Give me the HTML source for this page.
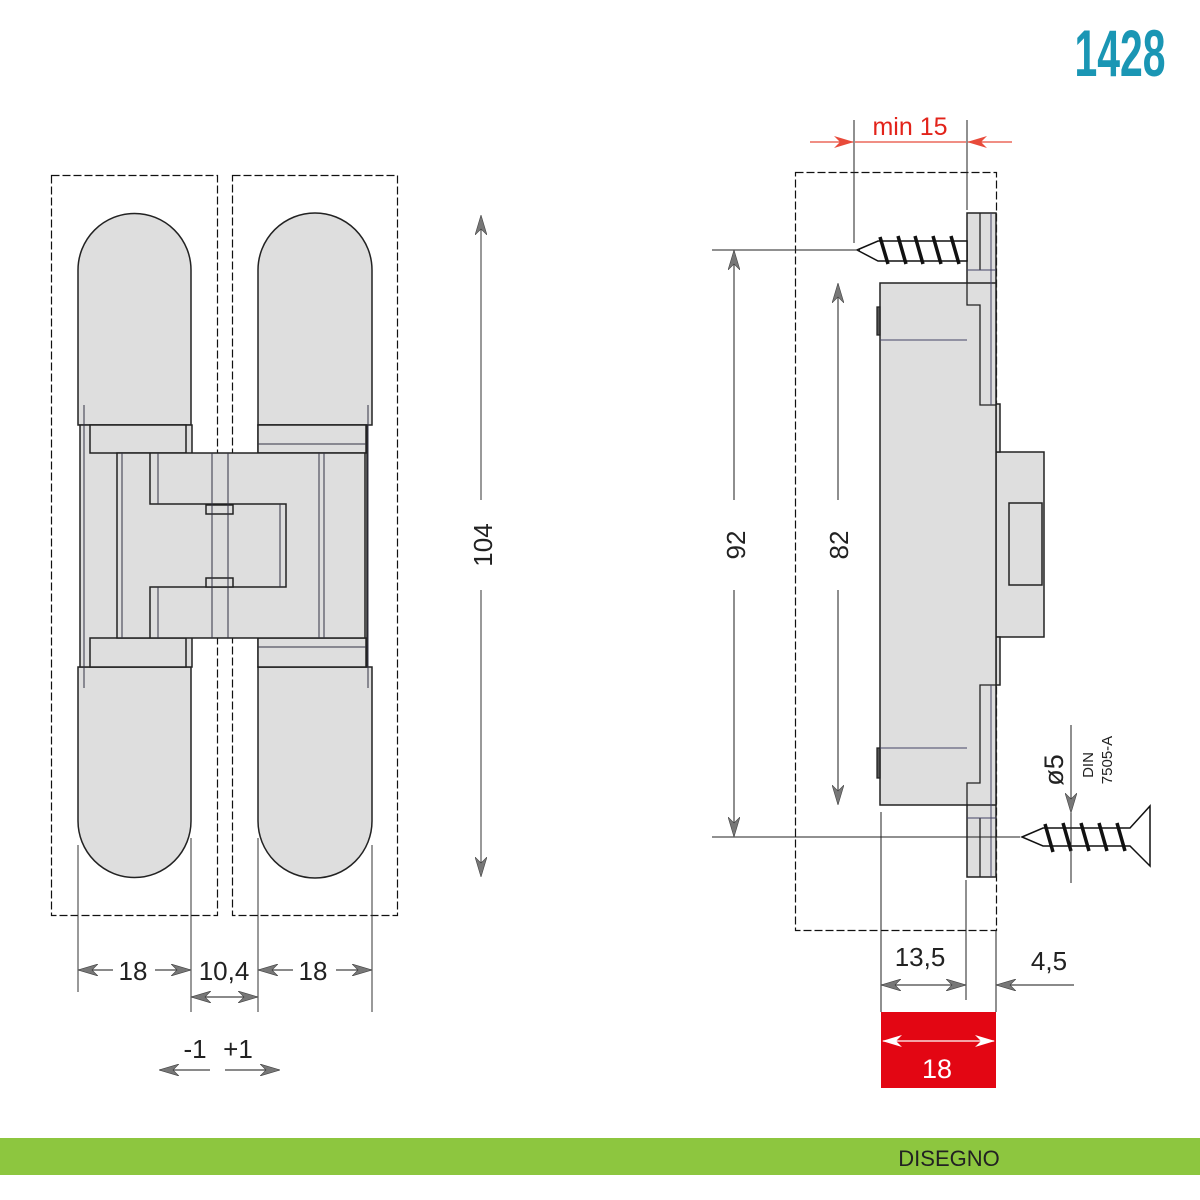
<!DOCTYPE html>
<html><head><meta charset="utf-8"><style>
html,body{margin:0;padding:0;background:#fff;width:1200px;height:1200px;overflow:hidden}
svg{display:block}
text{font-family:"Liberation Sans",sans-serif}
</style></head><body>
<svg width="1200" height="1200" viewBox="0 0 1200 1200" xmlns="http://www.w3.org/2000/svg">
<defs>
<marker id="ar" viewBox="0 0 20 12" refX="19" refY="6" markerWidth="20" markerHeight="12" markerUnits="userSpaceOnUse" orient="auto-start-reverse">
<path d="M0,0 L20,6 L0,12 L6,6 Z" fill="#777" stroke="#444" stroke-width="0.6"/></marker>
<marker id="arr" viewBox="0 0 20 12" refX="19" refY="6" markerWidth="20" markerHeight="12" markerUnits="userSpaceOnUse" orient="auto-start-reverse">
<path d="M0,0 L20,6 L0,12 L6,6 Z" fill="#fff"/></marker>
<marker id="arred" viewBox="0 0 20 12" refX="19" refY="6" markerWidth="20" markerHeight="12" markerUnits="userSpaceOnUse" orient="auto-start-reverse">
<path d="M0,0 L20,6 L0,12 L6,6 Z" fill="#e84a3a"/></marker>
</defs>

<text x="1120" y="76" font-size="66" font-weight="bold" fill="#1a96b4" text-anchor="middle" transform="translate(1120 0) scale(0.62 1) translate(-1120 0)">1428</text>

<g fill="none" stroke="#111" stroke-width="1.2" stroke-dasharray="8,3">
<rect x="51.5" y="175.5" width="166" height="740"/>
<rect x="232.5" y="175.5" width="165" height="740"/>
<rect x="795.5" y="172.5" width="201" height="758"/>
</g>

<g fill="#dedede" stroke="#222" stroke-width="1.5">
<path d="M78,425 V270 A56,56 0 0 1 191,270 V425 Z"/>
<path d="M78,667 V821 A56,56 0 0 0 191,821 V667 Z"/>
<path d="M258,425 V270 A57,57 0 0 1 372,270 V425 Z"/>
<path d="M258,667 V821 A57,57 0 0 0 372,821 V667 Z"/>
<rect x="80" y="425" width="112" height="242"/>
<rect x="258" y="425" width="109" height="242"/>
<rect x="90" y="425" width="96" height="28"/>
<rect x="90" y="638" width="96" height="29"/>
<rect x="258" y="425" width="108" height="28"/>
<rect x="258" y="638" width="108" height="29"/>
<rect x="117" y="453" width="248" height="185"/>
<path d="M150,453 V504 H286 V587 H150 V638" fill="none"/>
<rect x="206" y="505" width="27" height="9"/>
<rect x="206" y="578" width="27" height="9"/>
</g>
<g stroke="#334" stroke-width="1" fill="none">
<line x1="258" y1="444" x2="366" y2="444"/><line x1="258" y1="647" x2="366" y2="647"/>
<line x1="212" y1="453" x2="212" y2="638"/><line x1="228" y1="453" x2="228" y2="638"/>
<line x1="122" y1="453" x2="122" y2="638"/><line x1="158" y1="453" x2="158" y2="504"/><line x1="158" y1="587" x2="158" y2="638"/>
<line x1="319" y1="453" x2="319" y2="638"/><line x1="324" y1="453" x2="324" y2="638"/><line x1="280" y1="504" x2="280" y2="587"/>
<line x1="84" y1="405" x2="84" y2="688"/><line x1="368" y1="405" x2="368" y2="688"/>
</g>

<line x1="481" y1="216" x2="481" y2="500" stroke="#333" marker-start="url(#ar)"/>
<line x1="481" y1="590" x2="481" y2="876" stroke="#333" marker-end="url(#ar)"/>
<text x="492" y="545" font-size="26" text-anchor="middle" transform="rotate(-90 492 545)" fill="#222">104</text>

<g stroke="#333" stroke-width="1">
<line x1="78" y1="845" x2="78" y2="992"/><line x1="191" y1="838" x2="191" y2="1012"/>
<line x1="258" y1="838" x2="258" y2="1012"/><line x1="372" y1="845" x2="372" y2="1012"/>
</g>
<g stroke="#444" stroke-width="1.2" fill="none">
<line x1="79" y1="970" x2="113" y2="970" marker-start="url(#ar)"/>
<line x1="155" y1="970" x2="190" y2="970" marker-end="url(#ar)"/>
<line x1="259" y1="970" x2="293" y2="970" marker-start="url(#ar)"/>
<line x1="336" y1="970" x2="371" y2="970" marker-end="url(#ar)"/>
<line x1="192" y1="997" x2="257" y2="997" marker-start="url(#ar)" marker-end="url(#ar)"/>
<line x1="160" y1="1070" x2="210" y2="1070" marker-start="url(#ar)"/>
<line x1="225" y1="1070" x2="279" y2="1070" marker-end="url(#ar)"/>
</g>
<g font-size="26" fill="#222" text-anchor="middle">
<text x="133" y="980">18</text><text x="224" y="980">10,4</text><text x="313" y="980">18</text>
<text x="195" y="1058">-1</text><text x="238" y="1058">+1</text>
</g>

<!-- right view -->
<g fill="#dedede" stroke="#222" stroke-width="1.5">
<rect x="967" y="213" width="29" height="192"/>
<rect x="967" y="685" width="29" height="192"/>
<rect x="996" y="452" width="48" height="185"/>
<rect x="996" y="404" width="4" height="48"/>
<rect x="996" y="637" width="4" height="48"/>
<rect x="880" y="283" width="116" height="522"/>
<rect x="1009" y="503" width="33" height="82"/>
</g>
<g fill="#dedede" stroke="none"><rect x="968" y="284" width="27" height="118"/><rect x="968" y="688" width="27" height="116"/></g>
<g stroke="#222" stroke-width="1.3" fill="none">
<path d="M967,283 V305 H980 V405 H996"/>
<path d="M967,805 V783 H980 V685 H996"/>
<line x1="980" y1="213" x2="980" y2="270"/><line x1="980" y1="818" x2="980" y2="877"/>
<rect x="877" y="307" width="3" height="28" fill="#555"/><rect x="877" y="748" width="3" height="30" fill="#555"/>
</g>
<g stroke="#446" stroke-width="1" fill="none">
<line x1="991" y1="213" x2="991" y2="405"/><line x1="991" y1="685" x2="991" y2="877"/>
<line x1="880" y1="340" x2="967" y2="340"/><line x1="880" y1="748" x2="967" y2="748"/>
<line x1="967" y1="270" x2="996" y2="270"/><line x1="967" y1="818" x2="996" y2="818"/>
</g>

<g stroke="#111" stroke-width="1.5" fill="#fff">
<path d="M857,250 L878,241 H967 V261 H878 Z"/>
<path d="M880,237 l8,27 M898,236 l8,28 M915,236 l8,28 M933,236 l8,28 M951,236 l8,28" stroke-width="3.5" fill="none"/>
<path d="M1022,837 L1043,828 H1130 L1150,806 V866 L1130,846 H1043 Z"/>
<path d="M1045,824 l8,28 M1063,823 l8,28 M1081,823 l8,28 M1099,823 l8,28 M1117,823 l8,28" stroke-width="3.5" fill="none"/>
</g>

<g stroke="#222" stroke-width="1">
<line x1="712" y1="250" x2="860" y2="250"/><line x1="712" y1="837" x2="1020" y2="837"/>
<line x1="854" y1="120" x2="854" y2="243"/><line x1="967" y1="120" x2="967" y2="210"/>
<line x1="881" y1="812" x2="881" y2="1012"/><line x1="966" y1="880" x2="966" y2="1000"/>
<line x1="996" y1="930" x2="996" y2="1012"/>
<line x1="1071" y1="725" x2="1071" y2="883"/>
<line x1="1071" y1="780" x2="1071" y2="812" marker-end="url(#ar)"/>
</g>
<g stroke="#444" stroke-width="1.2">
<line x1="734" y1="251" x2="734" y2="500" marker-start="url(#ar)"/>
<line x1="734" y1="590" x2="734" y2="836" marker-end="url(#ar)"/>
<line x1="838" y1="284" x2="838" y2="500" marker-start="url(#ar)"/>
<line x1="838" y1="590" x2="838" y2="804" marker-end="url(#ar)"/>
<line x1="882" y1="985" x2="965" y2="985" marker-start="url(#ar)" marker-end="url(#ar)"/>
<line x1="1074" y1="985" x2="997" y2="985" marker-end="url(#ar)"/>
</g>
<g stroke="#e84a3a" stroke-width="1.2">
<line x1="810" y1="142" x2="853" y2="142" marker-end="url(#arred)"/>
<line x1="855" y1="142" x2="966" y2="142"/>
<line x1="1012" y1="142" x2="968" y2="142" marker-end="url(#arred)"/>
</g>
<text x="910" y="135" font-size="25" fill="#e2231a" text-anchor="middle">min 15</text>
<g font-size="26" fill="#222" text-anchor="middle">
<text x="745" y="545" transform="rotate(-90 745 545)">92</text>
<text x="848" y="545" transform="rotate(-90 848 545)">82</text>
<text x="920" y="966">13,5</text><text x="1049" y="970">4,5</text>
<text x="1063" y="770" transform="rotate(-90 1063 770)" font-size="27">ø5</text>
<text x="1093" y="765" transform="rotate(-90 1093 765)" font-size="15" text-anchor="middle">DIN</text>
<text x="1112" y="760" transform="rotate(-90 1112 760)" font-size="15" text-anchor="middle">7505-A</text>
</g>

<rect x="881" y="1012" width="115" height="76" fill="#e30613"/>
<line x1="883" y1="1041" x2="994" y2="1041" stroke="#fff" stroke-width="1.2" marker-start="url(#arr)" marker-end="url(#arr)"/>
<text x="937" y="1078" font-size="27" fill="#fff" text-anchor="middle">18</text>

<rect x="0" y="1138" width="1200" height="37" fill="#8dc63f"/>
<text x="949" y="1166" font-size="22" fill="#222" text-anchor="middle">DISEGNO</text>
</svg>
</body></html>
